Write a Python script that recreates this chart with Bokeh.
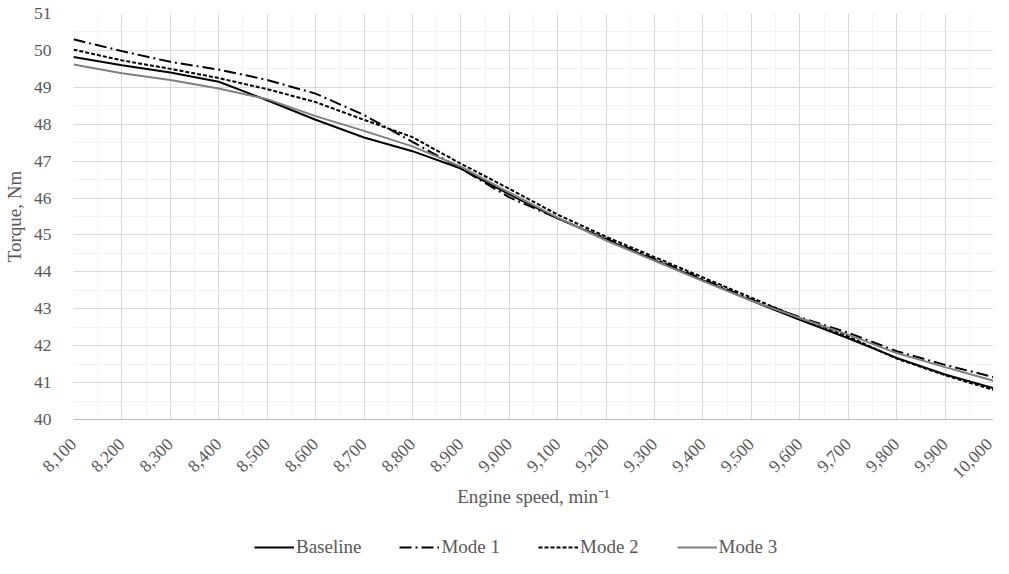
from bokeh.plotting import figure
from bokeh.layouts import column
from bokeh.models import (ColumnDataSource, SingleIntervalTicker, NumeralTickFormatter,
                          Legend, LegendItem, Range1d)
from bokeh.embed import file_html
from bokeh.resources import INLINE
import math

rpm = [8100, 8200, 8300, 8400, 8500, 8600, 8700, 8800, 8900, 9000,
       9100, 9200, 9300, 9400, 9500, 9600, 9700, 9800, 9900, 10000]
baseline = [49.82, 49.60, 49.40, 49.15, 48.65, 48.12, 47.64, 47.27, 46.80, 46.10,
            45.45, 44.88, 44.32, 43.77, 43.22, 42.70, 42.20, 41.67, 41.22, 40.85]
mode1 = [50.30, 49.98, 49.69, 49.48, 49.20, 48.83, 48.25, 47.52, 46.80, 46.02,
         45.45, 44.90, 44.35, 43.80, 43.25, 42.77, 42.35, 41.85, 41.48, 41.15]
mode2 = [50.02, 49.73, 49.50, 49.25, 48.95, 48.60, 48.12, 47.65, 46.93, 46.25,
         45.55, 44.95, 44.40, 43.85, 43.30, 42.75, 42.25, 41.65, 41.20, 40.80]
mode3 = [49.62, 49.38, 49.20, 48.97, 48.68, 48.22, 47.82, 47.40, 46.85, 46.15,
         45.47, 44.85, 44.30, 43.75, 43.22, 42.75, 42.30, 41.80, 41.42, 41.05]
series_names = ["Baseline", "Mode 1", "Mode 2", "Mode 3"]

FONT = "Liberation Serif"
GREY = "#595959"
FS_TICK = "17.5px"
FS_TITLE = "19px"

styles = [dict(line_color="black", line_width=2),
          dict(line_color="black", line_width=2, line_dash="12 4 2 4"),
          dict(line_color="black", line_width=2, line_dash="4 2"),
          dict(line_color="#808080", line_width=2)]

src = ColumnDataSource(dict(rpm=rpm, baseline=baseline, mode1=mode1, mode2=mode2, mode3=mode3))

p = figure(width=993, height=534, output_backend="svg", toolbar_location=None,
           x_range=Range1d(8100, 10000), y_range=Range1d(40, 51),
           min_border_left=64, min_border_right=0, min_border_top=13, min_border_bottom=115)
p.outline_line_color = None
p.background_fill_color = "white"

xt = SingleIntervalTicker(interval=100, num_minor_ticks=2)
yt = SingleIntervalTicker(interval=1, num_minor_ticks=2)
p.xaxis.ticker = xt
p.yaxis.ticker = yt
p.xgrid.ticker = xt
p.ygrid.ticker = yt
p.xaxis.formatter = NumeralTickFormatter(format="0,0")

for g in (p.xgrid, p.ygrid):
    g.grid_line_color = "#d9d9d9"
    g.grid_line_width = 1
    g.minor_grid_line_color = "#e6e6e6"
    g.minor_grid_line_dash = "1 1"
    g.minor_grid_line_width = 1

for ax in (p.xaxis, p.yaxis):
    ax.major_tick_line_color = None
    ax.minor_tick_line_color = None
    ax.major_label_text_font = FONT
    ax.major_label_text_font_size = FS_TICK
    ax.major_label_text_color = GREY
    ax.axis_label_text_font = FONT
    ax.axis_label_text_font_size = FS_TITLE
    ax.axis_label_text_color = GREY
    ax.axis_label_text_font_style = "normal"

p.xaxis.axis_line_color = "#bfbfbf"
p.yaxis.axis_line_color = None
p.xaxis.major_label_orientation = math.pi / 4
p.xaxis.major_label_standoff = 16
p.xaxis.axis_label = "Engine speed, min\u207b\u00b9"
p.xaxis.axis_label_standoff = 0
p.yaxis.axis_label = "Torque, Nm"
p.yaxis.major_label_standoff = 16
p.yaxis.axis_label_standoff = 6

cols = ["baseline", "mode1", "mode2", "mode3"]
for c, st in zip(cols, styles):
    p.line("rpm", c, source=src, **st)

# legend strip below the chart (its frame is aligned with the chart's frame)
lg = figure(width=993, height=24, output_backend="svg", toolbar_location=None,
            x_axis_type=None, y_axis_type=None, x_range=Range1d(0, 1), y_range=Range1d(0, 1),
            min_border=0)
lg.outline_line_color = None
lg.xgrid.visible = False
lg.ygrid.visible = False
offscreen = ColumnDataSource(dict(x=[-10, -9], y=[-10, -9]))
items = []
for name, st in zip(series_names, styles):
    r = lg.line("x", "y", source=offscreen, **st)
    items.append(LegendItem(label=name, renderers=[r]))
legend = Legend(items=items, orientation="horizontal", location=(181, 0),
                label_text_font=FONT, label_text_font_size=FS_TITLE,
                label_text_color=GREY, glyph_width=40, glyph_height=20,
                label_standoff=2, spacing=38, padding=2,
                border_line_color=None, background_fill_alpha=0, margin=0)
lg.add_layout(legend, "center")

layout = column(p, lg, spacing=0)
open("out.html", "w").write(file_html(layout, INLINE))
